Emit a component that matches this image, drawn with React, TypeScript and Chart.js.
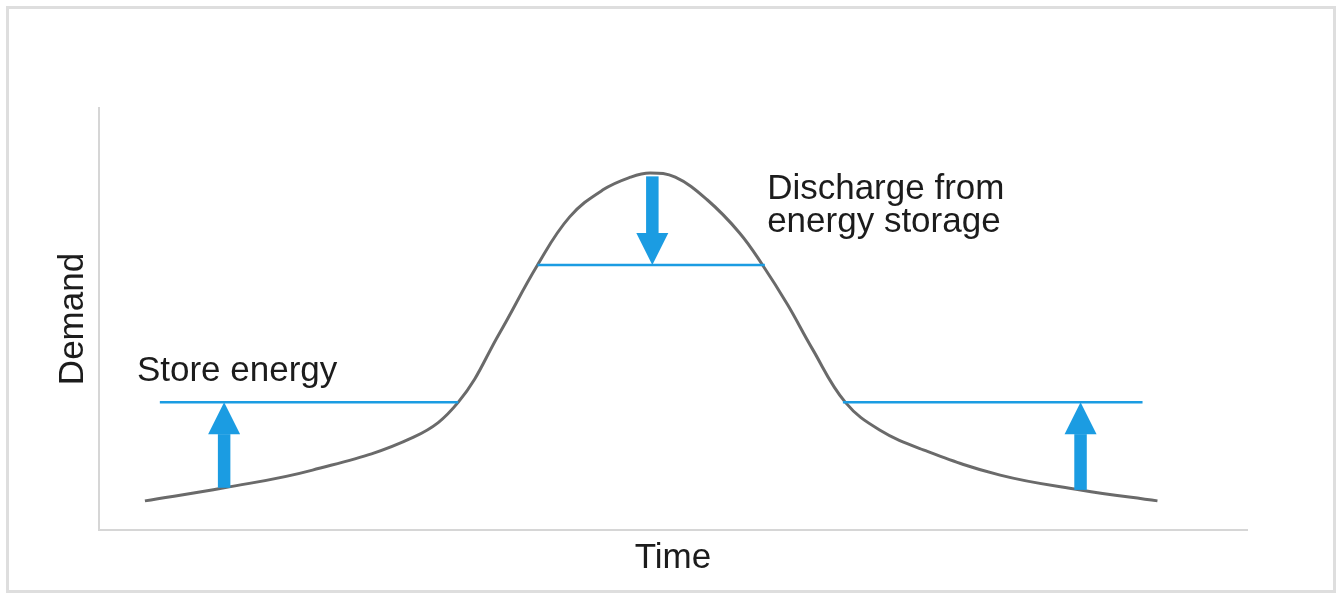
import React, { useEffect, useRef } from "react";
import { Chart, registerables } from "chart.js";

Chart.register(...registerables);

// Demand curve over time (abstract units, 0-100 on both axes)
const timeX = [4.0, 10.9, 18.6, 27.4, 31.3, 34.9, 38.2, 41.0, 43.9, 46.3, 48.0, 50.2, 53.0, 55.8, 57.8, 60.0, 62.1, 65.0, 68.0, 71.8, 78.5, 85.5, 92.2];
const demandY = [6.9, 10.0, 14.2, 22.0, 30.3, 46.7, 62.8, 74.2, 80.6, 83.6, 84.6, 83.6, 78.2, 70.4, 62.8, 53.3, 43.1, 30.3, 23.7, 19.0, 13.0, 9.5, 6.9];

// Levels (blue horizontal lines)
const storeLevel = 30.3;
const dischargeLevel = 62.8;
const storeLeftRange = [5.3, 31.3];
const storeRightRange = [64.8, 90.9];
const dischargeRange = [38.2, 58.0];

// Arrows: x position, start value, end value
const arrowX = [10.9, 48.2, 85.5];
const arrowFrom = [10.0, 83.8, 9.5];
const arrowTo = [30.3, 62.8, 30.3];

// Annotations
const annotationLines = [["Store energy"], ["Discharge from", "energy storage"]];
const annotationX = [3.3, 58.2];
const annotationY = [35.3, 78.5];

const axisTitleX = "Time";
const axisTitleY = "Demand";

const FONT = "'Liberation Sans', Arial, sans-serif";
const BLUE = "#1b9ce2";
const GRAY = "#6a6a6a";
const TEXT = "#1c1c1c";

export default function App() {
  const ref = useRef<HTMLCanvasElement | null>(null);

  useEffect(() => {
    if (!ref.current) return;

    const framePlugin = {
      id: "frame",
      beforeDraw(chart: any) {
        const ctx = chart.ctx;
        ctx.save();
        ctx.fillStyle = "#ffffff";
        ctx.fillRect(0, 0, chart.width, chart.height);
        ctx.strokeStyle = "#dedede";
        ctx.lineWidth = 3;
        ctx.strokeRect(7.5, 7.5, 1327, 584);
        ctx.restore();
      },
    };

    const arrowPlugin = {
      id: "arrows",
      afterDatasetsDraw(chart: any) {
        const ctx = chart.ctx;
        const xs = chart.scales.x;
        const ys = chart.scales.y;
        const headW = 32;
        const headH = 32;
        const shaftW = 12.5;
        ctx.save();
        ctx.fillStyle = BLUE;
        arrowX.forEach((xv, i) => {
          const px = xs.getPixelForValue(xv);
          const y0 = ys.getPixelForValue(arrowFrom[i]);
          const y1 = ys.getPixelForValue(arrowTo[i]);
          const dir = y1 < y0 ? -1 : 1; // -1 up, 1 down
          const headBase = y1 - dir * headH;
          ctx.beginPath();
          ctx.rect(px - shaftW / 2, Math.min(y0, headBase), shaftW, Math.abs(headBase - y0));
          ctx.fill();
          ctx.beginPath();
          ctx.moveTo(px - headW / 2, headBase);
          ctx.lineTo(px + headW / 2, headBase);
          ctx.lineTo(px, y1);
          ctx.closePath();
          ctx.fill();
        });
        ctx.restore();
      },
      afterDraw(chart: any) {
        const ctx = chart.ctx;
        const xs = chart.scales.x;
        const ys = chart.scales.y;
        ctx.save();
        ctx.fillStyle = TEXT;
        ctx.font = `35px ${FONT}`;
        ctx.textAlign = "left";
        ctx.textBaseline = "alphabetic";
        annotationLines.forEach((lines, i) => {
          const px = xs.getPixelForValue(annotationX[i]);
          const py = ys.getPixelForValue(annotationY[i]);
          lines.forEach((t, j) => ctx.fillText(t, px, py + j * 33));
        });
        ctx.restore();
      },
    };

    const hLine = (range: number[], level: number) => ({
      type: "line" as const,
      data: [
        { x: range[0], y: level },
        { x: range[1], y: level },
      ],
      borderColor: BLUE,
      borderWidth: 2.5,
      pointRadius: 0,
      tension: 0,
    });

    const chart = new Chart(ref.current, {
      type: "line",
      data: {
        datasets: [
          hLine(storeLeftRange, storeLevel),
          hLine(storeRightRange, storeLevel),
          hLine(dischargeRange, dischargeLevel),
          {
            type: "line",
            data: timeX.map((x, i) => ({ x, y: demandY[i] })),
            borderColor: GRAY,
            borderWidth: 3,
            pointRadius: 0,
            tension: 0.4,
          },
        ],
      },
      options: {
        responsive: false,
        animation: false,
        events: [],
        layout: { padding: { top: 108, right: 94, left: 0, bottom: 0 } },
        plugins: {
          legend: { display: false },
          tooltip: { enabled: false },
          title: { display: false },
        },
        scales: {
          x: {
            type: "linear",
            min: 0,
            max: 100,
            ticks: { display: false },
            grid: { display: false },
            border: { display: true, color: "#d6d6d6", width: 2 },
            title: {
              display: true,
              text: axisTitleX,
              color: TEXT,
              font: { family: FONT, size: 35 },
              padding: { top: 0, bottom: 15 },
            },
            afterFit(scale: any) {
              scale.height = 64;
            },
          },
          y: {
            type: "linear",
            min: 0,
            max: 100,
            ticks: { display: false },
            grid: { display: false },
            border: { display: true, color: "#d6d6d6", width: 2 },
            title: {
              display: true,
              text: axisTitleY,
              color: TEXT,
              font: { family: FONT, size: 35 },
              padding: { top: 52, bottom: 0 },
            },
            afterFit(scale: any) {
              scale.width = 99;
            },
          },
        },
      },
      plugins: [framePlugin, arrowPlugin],
    } as any);

    return () => chart.destroy();
  }, []);

  return (
    <div style={{ position: "fixed", left: 0, top: 0, width: 1341, height: 594, background: "#fff" }}>
      <canvas ref={ref} width={1341} height={594} style={{ display: "block" }} />
    </div>
  );
}
